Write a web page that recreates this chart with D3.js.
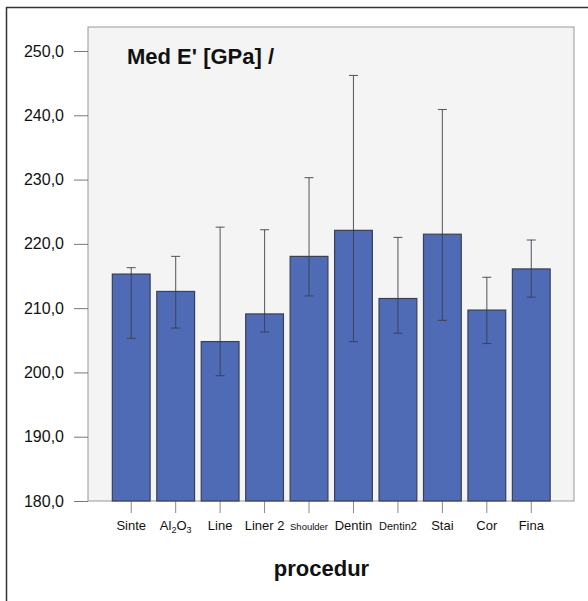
<!DOCTYPE html>
<html>
<head>
<meta charset="utf-8">
<script src="https://cdn.jsdelivr.net/npm/d3@7"></script>
<style>
  body { margin: 0; background: #fff; }
  svg { font-family: "Liberation Sans", Arial, sans-serif; }
</style>
</head>
<body>
<svg id="chart" width="588" height="601"></svg>
<script>
// data
const categories = ["Sinte", "Al2O3", "Line", "Liner 2", "Shoulder", "Dentin", "Dentin2", "Stai", "Cor", "Fina"];
const medianValues = [215.3, 212.6, 204.8, 209.1, 218.05, 222.1, 211.5, 221.5, 209.7, 216.1];
const errLow = [205.3, 206.9, 199.5, 206.3, 211.9, 204.8, 206.1, 208.1, 204.5, 211.7];
const errHigh = [216.3, 218.05, 222.6, 222.2, 230.3, 246.2, 221.0, 240.9, 214.8, 220.6];
const yTicks = [180, 190, 200, 210, 220, 230, 240, 250];

const data = categories.map((c, i) => ({ cat: c, v: medianValues[i], lo: errLow[i], hi: errHigh[i] }));

const svg = d3.select("#chart");

// outer frame (top + left visible)
svg.append("line").attr("x1", 6).attr("x2", 588).attr("y1", 7.5).attr("y2", 7.5)
  .attr("stroke", "#333").attr("stroke-width", 1.5);
svg.append("line").attr("x1", 6.5).attr("x2", 6.5).attr("y1", 7).attr("y2", 601)
  .attr("stroke", "#333").attr("stroke-width", 1.5);

const plotL = 88, plotR = 574, plotT = 27, plotB = 501;

const y = d3.scaleLinear().domain([180, 250]).range([501, 51]);
const x = d3.scaleBand().domain(categories).range([109, 553.5]).paddingInner(0.15).paddingOuter(0.075);

// plot background
svg.append("rect")
  .attr("x", plotL).attr("y", plotT)
  .attr("width", plotR - plotL).attr("height", plotB - plotT)
  .attr("fill", "#f4f4f4").attr("stroke", "#999").attr("stroke-width", 1);

// y axis
const yAxis = d3.axisLeft(y).tickValues(yTicks).tickSize(14).tickPadding(10)
  .tickFormat(d => d3.format(".1f")(d).replace(".", ","));
const gy = svg.append("g").attr("transform", `translate(${plotL},0)`).call(yAxis);
gy.select(".domain").remove();
gy.selectAll(".tick line").attr("stroke", "#777");
gy.selectAll(".tick text").attr("font-size", 16).attr("fill", "#111");

// x axis
const xAxis = d3.axisBottom(x).tickSize(12).tickPadding(6).tickFormat("");
const gx = svg.append("g").attr("transform", `translate(0,${plotB})`).call(xAxis);
gx.select(".domain").remove();
gx.selectAll(".tick line").attr("stroke", "#888");

const labelSize = { "Shoulder": 9.5, "Dentin2": 11 };
gx.selectAll(".tick").each(function (d) {
  const t = d3.select(this).append("text")
    .attr("y", 29).attr("text-anchor", "middle").attr("fill", "#111")
    .attr("font-size", labelSize[d] || 13);
  if (d === "Al2O3") {
    t.append("tspan").text("Al");
    t.append("tspan").text("2").attr("font-size", 9).attr("dy", 3);
    t.append("tspan").text("O").attr("dy", -3);
    t.append("tspan").text("3").attr("font-size", 9).attr("dy", 3);
  } else {
    t.text(d);
  }
});

// bars
svg.append("g").selectAll("rect")
  .data(data)
  .enter()
  .append("rect")
  .attr("x", d => x(d.cat))
  .attr("y", d => y(d.v))
  .attr("width", x.bandwidth())
  .attr("height", d => y(180) - y(d.v))
  .attr("fill", "#4f6bb6")
  .attr("stroke", "#3a3f55")
  .attr("stroke-width", 1.2);

// error bars
const eg = svg.append("g").attr("stroke", "#3a3d48").attr("stroke-width", 1.1).attr("stroke-opacity", 0.8);
data.forEach(d => {
  const cx = x(d.cat) + x.bandwidth() / 2;
  eg.append("line").attr("x1", cx).attr("x2", cx).attr("y1", y(d.lo)).attr("y2", y(d.hi));
  eg.append("line").attr("x1", cx - 4.5).attr("x2", cx + 4.5).attr("y1", y(d.lo)).attr("y2", y(d.lo));
  eg.append("line").attr("x1", cx - 4.5).attr("x2", cx + 4.5).attr("y1", y(d.hi)).attr("y2", y(d.hi));
});

// title
svg.append("text").attr("x", 127).attr("y", 64)
  .attr("font-size", 22).attr("font-weight", "bold").attr("fill", "#111")
  .text("Med E' [GPa] /");

// x axis title
svg.append("text").attr("x", 321.5).attr("y", 576)
  .attr("text-anchor", "middle")
  .attr("font-size", 22).attr("font-weight", "bold").attr("fill", "#111")
  .text("procedur");
</script>
</body>
</html>
